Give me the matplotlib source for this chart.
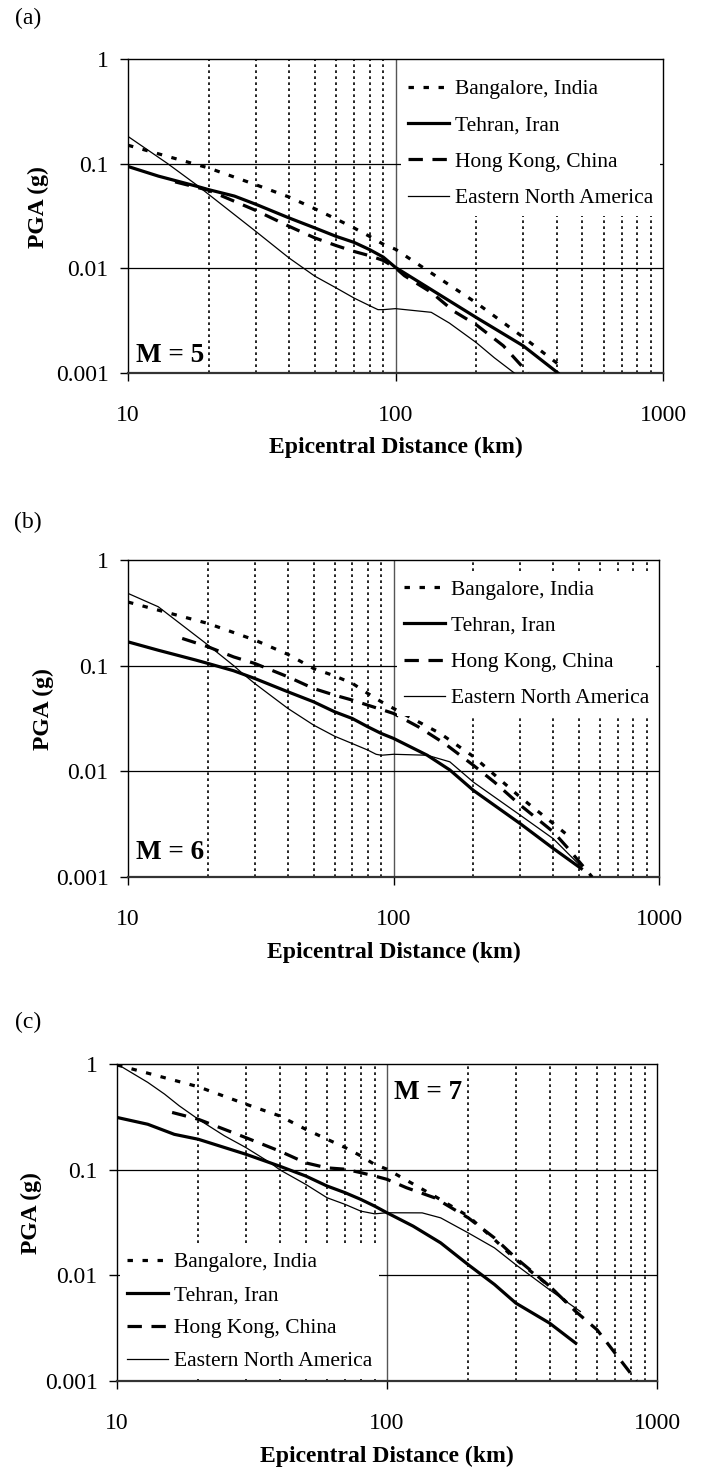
import numpy as np
import matplotlib
matplotlib.use("Agg")
import matplotlib.pyplot as plt

plt.rcParams['font.family'] = ['Liberation Serif', 'DejaVu Serif']

# --- data (distance km, PGA g) ---
series_names = ["Bangalore, India", "Tehran, Iran", "Hong Kong, China", "Eastern North America"]
panel_tags = ["(a)", "(b)", "(c)"]
magnitudes = ["M = 5", "M = 6", "M = 7"]

# M = 5
blr_d5 = [10, 20, 30, 40, 50, 60, 70, 80, 90, 100, 200, 300, 400, 420]
blr_p5 = [0.150, 0.091, 0.063, 0.048, 0.037, 0.0296, 0.0243, 0.0202, 0.0170, 0.0152, 0.0047, 0.0022, 0.00125, 0.00110]
teh_d5 = [10, 13, 18, 20, 25, 30, 40, 50, 60, 70, 80, 90, 100, 200, 300, 405]
teh_p5 = [0.094, 0.076, 0.061, 0.0565, 0.049, 0.041, 0.0303, 0.0243, 0.0202, 0.0177, 0.0151, 0.0128, 0.0102, 0.0034, 0.00182, 0.001]
hk_d5 = [15, 20, 30, 40, 50, 60, 70, 80, 90, 100, 108, 136, 165, 200, 253, 313]
hk_p5 = [0.067, 0.0557, 0.0358, 0.0252, 0.0195, 0.0165, 0.0145, 0.0132, 0.0119, 0.0101, 0.0085, 0.0059, 0.0039, 0.0029, 0.00182, 0.001]
ena_d5 = [10, 14, 18, 20, 30, 40, 50, 60, 70, 80, 86, 90, 100, 136, 159, 200, 234, 278]
ena_p5 = [0.182, 0.101, 0.063, 0.051, 0.0226, 0.01256, 0.0084, 0.0065, 0.0052, 0.0044, 0.00403, 0.00403, 0.00412, 0.0038, 0.0030, 0.00196, 0.0014, 0.001]

# M = 6
blr_d6 = [10, 20, 30, 40, 50, 60, 70, 80, 90, 100, 150, 200, 300, 400, 470]
blr_p6 = [0.40, 0.251, 0.175, 0.128, 0.094, 0.080, 0.068, 0.0546, 0.0455, 0.0394, 0.0228, 0.0138, 0.0057, 0.0032, 0.0023]
teh_d6 = [10, 13, 18, 20, 25, 30, 40, 50, 60, 70, 80, 90, 100, 134, 163, 200, 300, 400, 510]
teh_p6 = [0.168, 0.140, 0.113, 0.105, 0.0895, 0.0757, 0.0566, 0.0455, 0.0366, 0.0316, 0.0264, 0.0228, 0.0205, 0.0142, 0.0103, 0.0066, 0.0032, 0.00186, 0.0012]
hk_d6 = [16, 20, 25, 30, 40, 50, 60, 70, 80, 90, 100, 124, 156, 200, 240, 300, 400, 450, 560]
hk_p6 = [0.181, 0.151, 0.121, 0.105, 0.0785, 0.0608, 0.0526, 0.0472, 0.0423, 0.0385, 0.0353, 0.0264, 0.0183, 0.0114, 0.0079, 0.0048, 0.00267, 0.00192, 0.001]
ena_d6 = [10, 13, 20, 25, 27, 30, 40, 50, 60, 70, 80, 86, 90, 100, 134, 163, 200, 300, 400, 510]
ena_p6 = [0.483, 0.361, 0.157, 0.1, 0.0844, 0.0679, 0.0394, 0.0274, 0.0215, 0.0183, 0.0159, 0.0145, 0.0142, 0.0145, 0.0142, 0.0123, 0.0079, 0.00385, 0.0023, 0.00125]

# M = 7
blr_d7 = [10, 12, 20, 30, 40, 50, 60, 70, 80, 90, 100, 150, 200, 250, 300, 400, 500]
blr_p7 = [0.98, 0.865, 0.609, 0.417, 0.323, 0.241, 0.194, 0.162, 0.135, 0.112, 0.101, 0.0562, 0.0363, 0.0218, 0.0141, 0.0079, 0.0046]
teh_d7 = [10, 13, 16.3, 20, 30, 40, 50, 60, 70, 80, 90, 100, 125, 158, 200, 250, 300, 400, 500]
teh_p7 = [0.312, 0.269, 0.216, 0.194, 0.140, 0.108, 0.0871, 0.070, 0.0605, 0.0523, 0.0452, 0.0391, 0.0292, 0.0203, 0.0126, 0.0082, 0.00546, 0.00353, 0.00228]
hk_d7 = [16, 20, 30, 40, 50, 60, 70, 80, 90, 100, 118, 150, 200, 250, 300, 400, 500, 600, 700, 840]
hk_p7 = [0.348, 0.30, 0.201, 0.150, 0.116, 0.104, 0.101, 0.0937, 0.0871, 0.081, 0.0675, 0.0542, 0.035, 0.0226, 0.0146, 0.0079, 0.00455, 0.00305, 0.00183, 0.001]
ena_d7 = [10, 13, 15, 17, 20, 25, 30, 37, 40, 50, 60, 70, 80, 90, 100, 135, 158, 200, 250, 300, 400, 520]
ena_p7 = [1.0, 0.67, 0.519, 0.402, 0.30, 0.209, 0.162, 0.116, 0.1, 0.0726, 0.0542, 0.0469, 0.0405, 0.0382, 0.0391, 0.039, 0.035, 0.0252, 0.0182, 0.0126, 0.0073, 0.00455]

x_ticks = [10, 100, 1000]
x_ticklabels = ["10", "100", "1000"]
y_ticks = [0.001, 0.01, 0.1, 1]
y_ticklabels = ["0.001", "0.01", "0.1", "1"]
dotted_lo = [20, 30, 40, 50, 60, 70, 80, 90]
dotted_hi = [200, 300, 400, 500, 600, 700, 800, 900]

panels = [
    [(blr_d5, blr_p5), (teh_d5, teh_p5), (hk_d5, hk_p5), (ena_d5, ena_p5)],
    [(blr_d6, blr_p6), (teh_d6, teh_p6), (hk_d6, hk_p6), (ena_d6, ena_p6)],
    [(blr_d7, blr_p7), (teh_d7, teh_p7), (hk_d7, hk_p7), (ena_d7, ena_p7)],
]

# --- styles ---
styles = [
    dict(color="black", lw=2.3, dashes=(1.7, 3.0), dash_capstyle="butt"),
    dict(color="black", lw=2.3),
    dict(color="black", lw=2.3, dashes=(4.5, 3.0), dash_capstyle="butt"),
    dict(color="black", lw=0.9),
]

W, H = 705, 1468
# axes boxes in pixels: left, top, right, bottom
boxes = [(128, 59, 663, 373), (128, 560, 659, 877), (117, 1064, 657, 1381)]
tag_y = [18, 522, 1022]
m_pos = [(0.079, 0.057), (0.079, 0.076), (0.576, 0.909)]
leg_loc = ["upper right", "upper right", "lower left"]
leg_anchor = [(0.995, 0.959), (0.995, 0.962), (0.005, 0.007)]
leg_spacing = [0.75, 0.75, 0.6]
hi_top = [0.52, 1.0, 1.0]   # upper end of the 200-900 dotted lines in panel (a)
ylab_x = [-0.168, -0.16, -0.158]

fig = plt.figure(figsize=(W / 100, H / 100), dpi=100)

for i, series in enumerate(panels):
    l, t, r, b = boxes[i]
    ax = fig.add_axes([l / W, 1 - b / H, (r - l) / W, (b - t) / H])
    ax.set_xscale("log")
    ax.set_yscale("log")
    ax.set_xlim(10, 1000)
    ax.set_ylim(0.001, 1)

    # grid
    for xv in dotted_lo:
        ax.axvline(xv, color="black", lw=1.2, dashes=(1.6, 2.0), zorder=1)
    for xv in dotted_hi:
        ax.axvline(xv, ymax=hi_top[i], color="black", lw=1.2, dashes=(1.6, 2.0), zorder=1)
    ax.axvline(100, color="#555555", lw=1.0, zorder=1)
    for yv in [0.1, 0.01]:
        ax.axhline(yv, color="black", lw=0.9, zorder=1)

    for (d, p), name, st in zip(series, series_names, styles):
        ax.plot(d, p, label=name, zorder=3, **st)

    ax.set_xticks(x_ticks)
    ax.set_xticklabels(x_ticklabels)
    ax.set_yticks(y_ticks)
    ax.set_yticklabels(y_ticklabels)
    ax.minorticks_off()
    ax.tick_params(axis="both", direction="out", length=6, width=1,
                   labelsize=17, colors="black")
    ax.tick_params(axis="x", pad=17)
    ax.tick_params(axis="y", pad=8)
    for s in ax.spines.values():
        s.set_linewidth(1.0)
    ax.spines["bottom"].set_linewidth(1.6)
    ax.spines["bottom"].set_color("#333333")

    ax.set_xlabel("Epicentral Distance (km)", fontsize=17, fontweight="bold")
    ax.xaxis.set_label_coords(0.5, -0.238)
    ax.xaxis.label.set_va("center")
    ax.set_ylabel("PGA (g)", fontsize=17, fontweight="bold")
    ax.yaxis.set_label_coords(ylab_x[i], 0.53)
    ax.yaxis.label.set_va("center")

    ax.text(m_pos[i][0], m_pos[i][1], magnitudes[i], transform=ax.transAxes,
            fontsize=19.5, fontweight="bold", ha="center", va="center", zorder=6)

    leg = ax.legend(loc=leg_loc[i], bbox_to_anchor=leg_anchor[i], fontsize=15.5,
                    frameon=True, fancybox=False, framealpha=1, edgecolor="none",
                    facecolor="white", handlelength=1.9, handletextpad=0.25,
                    labelspacing=leg_spacing[i], borderpad=0.35, borderaxespad=0)
    leg.set_zorder(5)

    fig.text(28 / W, 1 - tag_y[i] / H, panel_tags[i], fontsize=17,
             ha="center", va="center")

fig.savefig("out.png", dpi=100)
